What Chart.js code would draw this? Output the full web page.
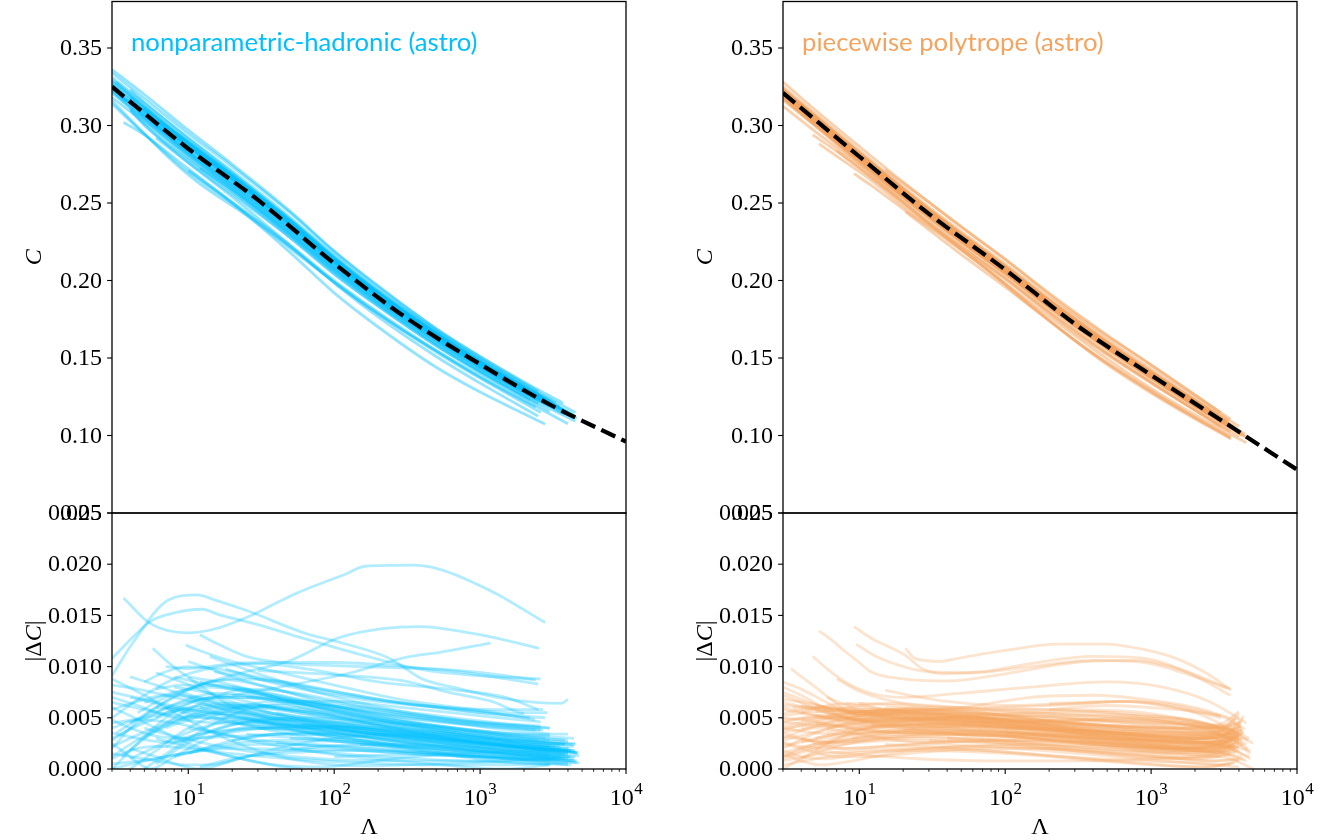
<!DOCTYPE html>
<html>
<head>
<meta charset="utf-8">
<script src="https://cdn.jsdelivr.net/npm/chart.js@4.4.1/dist/chart.umd.min.js"></script>
<style>
  body { margin: 0; background: #fff; width: 1336px; height: 840px; overflow: hidden; position: relative; }
  canvas { position: absolute; top: 0; }
</style>
</head>
<body>
<canvas id="npTop" width="665" height="840" style="left:0"></canvas>
<canvas id="npRes" width="665" height="840" style="left:0"></canvas>
<canvas id="ppTop" width="665" height="840" style="left:671px"></canvas>
<canvas id="ppRes" width="665" height="840" style="left:671px"></canvas>
<script>
// ---- data ----------------------------------------------------------------
// fitted C(Lambda) relation (dashed black line)
const LAMBDA_FIT = [3, 10, 30, 100, 300, 1000, 3000, 10000];
const FIT_NP = [0.325, 0.285, 0.252, 0.211, 0.177, 0.146, 0.120, 0.096];
const FIT_PP = [0.321, 0.280, 0.243, 0.207, 0.172, 0.139, 0.110, 0.078];

const C_TICKS = [0.05, 0.10, 0.15, 0.20, 0.25, 0.30, 0.35];
const DC_TICKS = [0.000, 0.005, 0.010, 0.015, 0.020, 0.025];
const LAMBDA_TICKS = [10, 100, 1000, 10000];

// nonparametric-hadronic draws: [Lambda, C]
const NP_C = [
  [[3,.336],[5,.320],[10,.297],[20,.275],[50,.2446],[100,.219],[200,.1965],[500,.169],[1000,.151],[2000,.1346],[3700,.1209]],
  [[3,.334],[5,.3175],[10,.2948],[20,.2735],[50,.2436],[100,.2186],[200,.196],[500,.1688],[1000,.1508],[2500,.1285]],
  [[3,.331],[5,.3145],[10,.292],[20,.2705],[50,.2406],[100,.2165],[200,.194],[500,.1678],[1000,.1497],[2000,.1331],[4500,.1148]],
  [[3.2,.328],[5,.3125],[10,.2895],[20,.268],[50,.2386],[100,.2147],[200,.1925],[500,.1665],[1000,.1485],[2000,.132],[3000,.1222]],
  [[4,.323],[5,.3148],[10,.2915],[20,.2695],[50,.239],[100,.2145],[200,.192],[500,.1655],[1000,.1475],[2000,.131],[2800,.1232]],
  [[3,.3295],[5,.312],[10,.2885],[20,.2665],[50,.2366],[100,.2128],[200,.191],[500,.165],[1000,.147],[2000,.1305],[4200,.1136]],
  [[3,.3265],[5,.309],[10,.286],[20,.2645],[50,.235],[100,.2112],[200,.1895],[500,.1636],[1000,.1458],[2000,.1294],[3300,.1183]],
  [[3,.3235],[5,.306],[10,.2825],[20,.2615],[50,.2325],[100,.209],[200,.1878],[500,.1625],[1000,.1452],[2000,.129],[4600,.1112]],
  [[3.5,.318],[5,.3095],[10,.2875],[20,.2665],[50,.2368],[100,.2128],[200,.1906],[500,.1644],[1000,.1462],[2400,.1259]],
  [[3,.322],[5,.3035],[10,.2805],[20,.2595],[50,.2305],[100,.2075],[200,.1865],[500,.1612],[1000,.1438],[2000,.1278],[3800,.1136]],
  [[6,.3005],[10,.2875],[20,.2665],[50,.2372],[100,.2132],[200,.1912],[500,.1648],[1000,.1466],[2000,.1298],[3500,.1175]],
  [[3,.3245],[5,.3065],[10,.283],[20,.2615],[50,.2318],[100,.2082],[200,.1868],[500,.1612],[1000,.1436],[2000,.1276],[4400,.1112]],
  [[4.5,.3085],[10,.2815],[20,.2595],[50,.2298],[100,.2065],[200,.1855],[500,.1605],[1000,.1432],[2000,.1275],[3000,.119]],
  [[8,.2925],[10,.2865],[20,.2655],[50,.2358],[100,.2122],[200,.1905],[500,.1646],[1000,.1466],[2000,.1302],[4000,.1148]],
  [[3,.3275],[5,.3105],[10,.2875],[20,.2665],[50,.2372],[100,.2135],[200,.1918],[500,.1658],[1000,.1478],[2000,.1312],[3500,.1188]],
  [[3,.326],[5,.309],[10,.2865],[20,.2658],[50,.2368],[100,.2132],[200,.1915],[500,.1655],[1000,.1474],[2000,.1308],[2900,.1222]],
  [[4,.3175],[10,.2858],[20,.2648],[50,.2356],[100,.2118],[200,.1902],[500,.1644],[1000,.1466],[2000,.1301],[4300,.1134]],
  [[3,.324],[5,.307],[10,.2838],[20,.2628],[50,.2336],[100,.2102],[200,.1888],[500,.1632],[1000,.1455],[2000,.1292],[3600,.1168]],
  [[5,.3115],[10,.289],[20,.268],[50,.2385],[100,.2145],[200,.1925],[500,.1662],[1000,.148],[2000,.1314],[3100,.1214]],
  [[3,.321],[5,.304],[10,.281],[20,.2602],[50,.2312],[100,.208],[200,.1868],[500,.1615],[1000,.1442],[2000,.128],[2700,.1218]],
  [[3.4,.3195],[5,.3075],[10,.2848],[20,.2638],[50,.2345],[100,.2108],[200,.1892],[500,.1635],[1000,.1457],[2600,.1245]],
  [[7,.2985],[10,.2888],[20,.2676],[50,.238],[100,.2138],[200,.1918],[500,.1655],[1000,.1472],[2000,.1305],[4000,.1152]],
  [[3,.3285],[5,.3118],[10,.2888],[20,.2675],[50,.2378],[100,.2136],[200,.1915],[500,.1652],[1000,.147],[2000,.1303],[3200,.1198]],
  [[4,.3185],[5,.3108],[10,.2872],[20,.266],[50,.2362],[100,.2122],[200,.1902],[500,.1642],[1000,.1462],[2000,.1298],[4500,.1125]],
  [[3,.3225],[5,.3055],[10,.283],[20,.262],[50,.233],[100,.2095],[200,.1882],[500,.1628],[1000,.1452],[2200,.1272]],
  [[6,.3035],[10,.2898],[20,.2688],[50,.2395],[100,.2155],[200,.1935],[500,.1672],[1000,.149],[2000,.1322],[3300,.121]],
  [[3.6,.302],[5,.294],[10,.272],[20,.250],[50,.218],[100,.192],[200,.170],[500,.144],[1000,.128],[2000,.114],[2790,.1074]],
  [[3,.316],[4.2,.302],[7.3,.2795],[11.4,.264],[26,.241],[62,.214],[107,.1966],[240,.1733],[400,.1602],[1300,.1325],[2400,.1188],[4000,.1075]],
  [[3,.314],[5,.2945],[10,.270],[20,.250],[50,.2216],[100,.199],[200,.1785],[500,.1538],[1000,.137],[2600,.1148]],
  [[4,.311],[5,.301],[10,.276],[20,.254],[50,.2226],[100,.1985],[200,.1765],[500,.151],[1000,.1338],[2500,.1125]],
  [[10,.271],[20,.2505],[50,.2226],[100,.2],[200,.1795],[500,.1548],[1000,.1375],[2400,.1183]],
  [[4,.310],[5,.300],[10,.278],[20,.257],[50,.2276],[100,.204],[200,.1835],[500,.1578],[1000,.1405],[2000,.1246],[3000,.1155]],
  [[6,.292],[10,.276],[20,.2555],[50,.2275],[100,.2045],[200,.1835],[500,.158],[1000,.141],[2200,.1228]],
  [[3,.318],[5,.302],[10,.279],[20,.258],[50,.229],[100,.2058],[200,.1848],[500,.1592],[1000,.1418],[2000,.126],[4500,.1092]],
  [[12,.2725],[20,.2585],[50,.2296],[100,.206],[200,.185],[500,.1592],[1000,.1418],[2500,.1205]]
];

// nonparametric-hadronic residuals: [Lambda, |dC|]
const NP_DC = [
  [[3.6,.0167],[5.5,.0142],[10,.0133],[14.5,.0136],[26,.0149],[40,.0162],[56,.0172],[118,.0190],[163,.0198],[344,.0199],[529,.0195],[1180,.0174],[2790,.0143]],
  [[3,.0091],[4.2,.0124],[7.3,.0165],[11.4,.0170],[15.3,.0165],[26,.0154],[62,.0133],[107,.0124],[240,.0108],[400,.0088],[700,.0079],[1300,.0070],[2400,.0065],[3600,.0064],[4000,.0068]],
  [[3,.0108],[5.5,.0144],[7.3,.0151],[12.5,.0156],[16,.0151],[30,.0141],[60,.0128],[150,.0112],[400,.0097],[1000,.0091],[2600,.0088]],
  [[3.2,.0035],[6,.0060],[12,.0082],[25,.0095],[50,.0106],[107,.0128],[214,.0137],[400,.0139],[620,.0136],[1180,.0129],[2540,.0118]],
  [[20,.0072],[50,.0082],[130,.0094],[310,.0109],[530,.0114],[1180,.0123]],
  [[5.7,.0118],[7.3,.0104],[12.5,.0080],[19,.0063],[50,.0045],[150,.0032],[500,.0022],[1500,.0015],[3000,.0012]],
  [[9.6,.0121],[11.8,.0116],[19,.0106],[40,.0095],[100,.0082],[310,.0067],[1000,.0057],[2380,.0048]],
  [[12,.0131],[16,.0122],[25,.0110],[50,.0103],[100,.0101],[250,.0099],[600,.0097],[1200,.0093],[2400,.0087]],
  [[7,.0100],[10,.0098],[20,.0103],[40,.0104],[100,.0104],[300,.0100],[800,.0094],[2500,.0083]],
  [[3,.0050],[5,.0072],[8,.0088],[15,.0099],[30,.0103],[70,.0097],[200,.0085],[600,.0078],[1500,.0070],[2500,.0058]],
  [[30,.0096],[100,.0092],[300,.0086],[600,.0075],[1200,.0066],[2000,.0055],[2900,.0055]],
  [[3,.0020],[4,.0040],[6,.0060],[10,.0078],[18,.0087],[35,.0080],[100,.0062],[300,.0048],[1000,.0036],[2500,.0028]],
  [[3,.0000],[4.5,.0025],[7,.0050],[12,.0068],[25,.0072],[60,.0063],[200,.0048],[700,.0035],[2000,.0025],[3300,.0022]],
  [[3,.0060],[4,.0052],[6,.0040],[10,.0025],[20,.0012],[40,.0003],[60,.0000]],
  [[3,.0088],[5,.0072],[8,.0055],[15,.0035],[30,.0018],[60,.0008],[150,.0003],[500,.0005],[2000,.0008],[3500,.0009]],
  [[3.5,.0012],[5,.0030],[8,.0050],[14,.0068],[25,.0078],[50,.0075],[150,.0062],[500,.0052],[1500,.0044],[3000,.0040]],
  [[4,.0000],[6,.0018],[10,.0040],[20,.0058],[40,.0062],[100,.0055],[300,.0044],[1000,.0035],[2800,.0030]],
  [[3,.0035],[4.5,.0030],[7,.0026],[12,.0030],[25,.0038],[60,.0042],[200,.0040],[600,.0033],[2000,.0022],[4200,.0018]],
  [[5,.0000],[8,.0020],[14,.0042],[25,.0058],[50,.0064],[120,.0060],[400,.0050],[1200,.0040],[3000,.0034]],
  [[3,.0015],[5,.0010],[8,.0005],[12,.0000],[20,.0008],[40,.0020],[100,.0030],[300,.0034],[1000,.0030],[3000,.0022]],
  [[6,.0094],[9,.0085],[15,.0072],[30,.0058],[80,.0045],[250,.0035],[800,.0028],[2500,.0020],[4500,.0018]],
  [[8,.0090],[12,.0084],[20,.0078],[40,.0070],[100,.0060],[300,.0050],[1000,.0042],[2700,.0038]],
  [[10,.0105],[14,.0098],[20,.0090],[35,.0080],[80,.0068],[250,.0056],[800,.0046],[2600,.0040]],
  [[4,.0090],[6,.0082],[10,.0070],[20,.0055],[50,.0040],[150,.0028],[500,.0020],[1500,.0014],[3600,.0012]],
  [[3,.0070],[4.5,.0062],[8,.0050],[15,.0045],[30,.0044],[80,.0042],[250,.0037],[800,.0030],[2500,.0022],[4700,.0015]],
  [[3,.0045],[5,.0050],[9,.0058],[18,.0062],[40,.0058],[120,.0048],[400,.0038],[1500,.0028],[3800,.0024]],
  [[6,.0005],[9,.0022],[15,.0038],[30,.0048],[70,.0050],[200,.0046],[600,.0040],[2000,.0033],[4400,.0030]],
  [[3,.0030],[5,.0045],[10,.0060],[20,.0064],[50,.0058],[150,.0046],[500,.0032],[1500,.0022],[4000,.0015]],
  [[7,.0040],[11,.0050],[20,.0060],[40,.0066],[100,.0066],[300,.0060],[1000,.0052],[2600,.0046]],
  [[15,.0095],[20,.0092],[30,.0088],[60,.0080],[150,.0070],[400,.0062],[1200,.0054],[2800,.0050]],
  [[3,.0010],[4,.0018],[6,.0022],[10,.0020],[20,.0015],[50,.0010],[150,.0006],[500,.0004],[1500,.0004],[4000,.0006]],
  [[4.5,.0055],[7,.0070],[12,.0082],[20,.0088],[40,.0086],[100,.0076],[300,.0064],[1000,.0055],[2200,.0050]],
  [[12,.0060],[20,.0052],[40,.0042],[100,.0030],[300,.0020],[1000,.0012],[2500,.0008],[4600,.0006]],
  [[9,.0075],[14,.0066],[25,.0054],[60,.0040],[200,.0026],[700,.0016],[2000,.0010],[4300,.0008]],
  [[3,.0025],[4,.0012],[5.5,.0000],[8,.0012],[14,.0030],[30,.0042],[80,.0040],[250,.0032],[900,.0022],[3000,.0014]],
  [[20,.0080],[40,.0072],[100,.0060],[300,.0046],[1000,.0034],[3000,.0026],[4500,.0025]],
  [[5,.0065],[8,.0075],[13,.0080],[25,.0076],[60,.0064],[200,.0050],[700,.0040],[2200,.0034],[4000,.0034]],
  [[10,.0040],[16,.0035],[30,.0028],[80,.0022],[250,.0016],[900,.0012],[3000,.0008]],
  [[3,.0005],[6,.0010],[12,.0018],[30,.0024],[100,.0022],[400,.0016],[1500,.0010],[4200,.0004]],
  [[25,.0070],[60,.0066],[150,.0060],[400,.0052],[1200,.0044],[3000,.0040]],
  [[6,.0030],[10,.0022],[20,.0012],[40,.0004],[80,.0002],[250,.0010],[900,.0016],[3500,.0018]],
  [[40,.0055],[100,.0046],[300,.0036],[900,.0028],[2500,.0022],[4000,.0020]],
  [[3,.0040],[4.5,.0048],[8,.0045],[15,.0036],[30,.0026],[100,.0014],[400,.0006],[1500,.0000],[3000,.0004]],
  [[14,.0110],[20,.0102],[35,.0090],[80,.0074],[250,.0058],[800,.0047],[2600,.0042]],
  [[18,.0098],[30,.0088],[70,.0076],[200,.0066],[600,.0060],[1500,.0058],[2700,.0058]],
  [[7,.0060],[11,.0052],[18,.0046],[40,.0040],[120,.0030],[400,.0018],[1200,.0008],[3000,.0004]],
  [[50,.0030],[150,.0028],[500,.0022],[1500,.0016],[3500,.0012]],
  [[100,.0012],[300,.0014],[1000,.0012],[2500,.0010],[4500,.0008]],
  [[5,.0085],[7,.0095],[10,.0100],[15,.0098],[30,.0090],[80,.0078],[250,.0066],[800,.0058],[2000,.0054]],
  [[12,.0002],[20,.0010],[50,.0016],[150,.0018],[500,.0016],[1500,.0012],[3800,.0010]],
  [[30,.0040],[100,.0034],[300,.0026],[1000,.0018],[2600,.0012],[4400,.0010]],
  [[8,.0012],[15,.0022],[40,.0028],[150,.0026],[600,.0020],[2000,.0014],[4100,.0012]],
  [[20,.0060],[50,.0052],[150,.0042],[500,.0034],[1500,.0026],[3500,.0022]],
  [[3,.0000],[5,.0008],[10,.0016],[20,.0020],[60,.0018],[200,.0012],[700,.0008],[2000,.0006],[4000,.0004]],
  [[10,.0090],[20,.0082],[50,.0066],[150,.0050],[500,.0038],[1500,.0030],[3000,.0028]],
  [[3,.0028],[5,.0048],[9,.0066],[16,.0074],[35,.0068],[100,.0052],[300,.0038],[1000,.0026],[3000,.0018],[4600,.0016]],
  [[4,.0070],[6,.0064],[10,.0056],[20,.0046],[50,.0034],[150,.0024],[500,.0018],[1500,.0014],[4000,.0010]],
  [[6,.0050],[9,.0062],[15,.0070],[30,.0070],[80,.0060],[250,.0046],[800,.0034],[2500,.0026],[4300,.0024]],
  [[10,.0070],[16,.0064],[30,.0054],[80,.0042],[250,.0030],[800,.0022],[2400,.0016],[4000,.0014]],
  [[3,.0058],[4.5,.0066],[7,.0072],[12,.0070],[25,.0060],[70,.0046],[250,.0034],[900,.0026],[2800,.0020]],
  [[5,.0030],[8,.0046],[14,.0058],[30,.0060],[80,.0054],[250,.0042],[800,.0032],[2500,.0026],[4500,.0024]],
  [[15,.0050],[30,.0046],[80,.0038],[250,.0028],[800,.0020],[2500,.0014],[4200,.0012]],
  [[3,.0012],[4,.0024],[6,.0038],[10,.0050],[20,.0054],[50,.0048],[150,.0036],[500,.0026],[1500,.0018],[3800,.0014]],
  [[8,.0080],[12,.0076],[25,.0066],[60,.0054],[200,.0042],[700,.0034],[2000,.0028],[4000,.0026]],
  [[25,.0034],[60,.0030],[200,.0024],[700,.0018],[2000,.0012],[4600,.0008]],
  [[4,.0020],[6,.0012],[9,.0004],[14,.0004],[25,.0012],[60,.0020],[200,.0024],[700,.0022],[2000,.0018],[3600,.0016]],
  [[12,.0085],[18,.0080],[35,.0072],[90,.0062],[300,.0052],[1000,.0044],[2600,.0038]],
  [[7,.0022],[12,.0034],[22,.0044],[50,.0048],[150,.0044],[500,.0036],[1500,.0028],[3800,.0024]],
  [[3,.0065],[5,.0058],[8,.0052],[14,.0050],[30,.0050],[80,.0046],[250,.0038],[800,.0030],[2400,.0024],[4400,.0022]],
  [[40,.0026],[120,.0022],[400,.0016],[1300,.0012],[3300,.0010]],
  [[5,.0040],[8,.0032],[14,.0024],[30,.0016],[80,.0010],[250,.0008],[800,.0008],[2500,.0010],[4500,.0012]],
  [[9,.0055],[14,.0060],[25,.0062],[60,.0058],[200,.0048],[600,.0040],[1800,.0032],[3800,.0028]],
  [[3,.0082],[4.5,.0078],[7,.0072],[12,.0064],[25,.0054],[60,.0044],[200,.0034],[700,.0026],[2200,.0020],[4000,.0018]],
  [[60,.0044],[200,.0038],[600,.0030],[1800,.0022],[4200,.0018]],
  [[20,.0028],[40,.0034],[100,.0036],[300,.0032],[900,.0026],[2600,.0020],[4700,.0016]],
  [[6,.0078],[9,.0082],[15,.0082],[30,.0076],[80,.0064],[250,.0052],[800,.0044],[2400,.0038]],
  [[3,.0048],[4,.0040],[6,.0032],[10,.0030],[20,.0032],[50,.0034],[150,.0032],[500,.0026],[1500,.0020],[4000,.0016]],
  [[150,.0024],[500,.0020],[1500,.0016],[3500,.0014],[4800,.0013]],
  [[10,.0015],[18,.0026],[40,.0034],[120,.0034],[400,.0028],[1200,.0022],[3200,.0018]],
  [[30,.0062],[80,.0054],[250,.0044],[800,.0036],[2200,.0030],[4000,.0028]],
  [[4,.0045],[6,.0056],[10,.0066],[20,.0070],[45,.0066],[120,.0056],[400,.0044],[1200,.0036],[3000,.0032]],
  [[3,.0022],[5,.0036],[9,.0050],[18,.0056],[40,.0052],[120,.0042],[400,.0032],[1200,.0024],[3200,.0018],[4600,.0016]],
  [[6,.0060],[10,.0058],[20,.0052],[50,.0042],[150,.0032],[500,.0024],[1500,.0018],[3800,.0014]],
  [[15,.0036],[35,.0040],[100,.0038],[300,.0032],[1000,.0024],[2800,.0018],[4500,.0016]],
  [[3,.0075],[5,.0068],[9,.0060],[18,.0052],[45,.0044],[150,.0036],[500,.0028],[1500,.0022],[3600,.0018]],
  [[8,.0028],[14,.0036],[30,.0040],[80,.0040],[250,.0034],[800,.0026],[2400,.0020],[4400,.0018]],
  [[50,.0020],[150,.0018],[500,.0014],[1500,.0010],[3500,.0008],[4800,.0006]],
  [[4,.0010],[7,.0026],[12,.0040],[25,.0048],[60,.0046],[200,.0038],[700,.0028],[2000,.0022],[4100,.0020]],
  [[20,.0046],[50,.0044],[150,.0038],[500,.0030],[1500,.0024],[3600,.0020]]
];

// piecewise polytrope draws: [Lambda, C]
const PP_C = [
  [[3,.328],[5,.310],[10,.2865],[20,.2635],[50,.2345],[100,.2138],[200,.1918],[500,.1648],[1000,.1455],[2000,.1262],[3500,.1105]],
  [[3,.325],[5,.3075],[10,.284],[20,.2605],[50,.2315],[100,.2108],[200,.189],[500,.1622],[1000,.143],[2000,.1245],[4000,.1058]],
  [[3,.3235],[5,.306],[10,.2825],[20,.2592],[50,.2302],[100,.2095],[200,.1876],[500,.1606],[1000,.1414],[2000,.1228],[3000,.1118]],
  [[4,.314],[5,.305],[10,.2815],[20,.2582],[50,.2292],[100,.2085],[200,.1866],[500,.1598],[1000,.1408],[2000,.1222],[3300,.1094]],
  [[3,.3225],[5,.305],[10,.2812],[20,.2578],[50,.2287],[100,.2078],[200,.1858],[500,.159],[1000,.1402],[2000,.1218],[4400,.1008]],
  [[3,.3205],[5,.303],[10,.2795],[20,.2562],[50,.2272],[100,.2065],[200,.1846],[500,.1576],[1000,.1386],[2000,.1203],[3800,.1036]],
  [[3,.319],[5,.3015],[10,.278],[20,.2548],[50,.2258],[100,.2052],[200,.1834],[500,.1565],[1000,.1376],[2000,.1195],[3000,.1092]],
  [[3.3,.3165],[5,.3025],[10,.279],[20,.2558],[50,.2268],[100,.206],[200,.1842],[500,.1572],[1000,.1382],[2000,.1198],[4100,.1012]],
  [[6,.2955],[10,.2788],[20,.2556],[50,.2266],[100,.2058],[200,.1838],[500,.1566],[1000,.1374],[2000,.119],[3600,.1052]],
  [[3,.3175],[5,.300],[10,.2768],[20,.2538],[50,.2252],[100,.2048],[200,.1832],[500,.1562],[1000,.1372],[2000,.1188],[3900,.1028]],
  [[4,.3105],[5,.302],[10,.2785],[20,.2552],[50,.226],[100,.2052],[200,.1834],[500,.1566],[1000,.1378],[2000,.1196],[3400,.1075]],
  [[3,.3222],[5,.3048],[10,.2814],[20,.2580],[50,.2290],[100,.2083],[200,.1862],[500,.1592],[1000,.1401],[2000,.1218],[3700,.1055]],
  [[3,.3215],[5,.304],[10,.2806],[20,.2573],[50,.2283],[100,.2076],[200,.1856],[500,.1586],[1000,.1396],[2000,.1213],[3200,.1095]],
  [[3,.3198],[5,.3025],[10,.279],[20,.2557],[50,.2267],[100,.206],[200,.1841],[500,.1572],[1000,.1382],[2000,.12],[4200,.1000]],
  [[3,.3185],[5,.301],[10,.2776],[20,.2543],[50,.2254],[100,.2047],[200,.1829],[500,.1561],[1000,.1372],[2000,.1191],[3500,.1045]],
  [[3,.323],[5,.3057],[10,.2822],[20,.2588],[50,.2298],[100,.2091],[200,.187],[500,.1599],[1000,.1408],[2000,.1224],[2900,.1125]],
  [[3.5,.3165],[5,.3045],[10,.2811],[20,.2577],[50,.2287],[100,.2079],[200,.1859],[500,.1589],[1000,.1399],[2000,.1216],[4500,.0985]],
  [[3,.3175],[5,.3002],[10,.2768],[20,.2536],[50,.2248],[100,.2042],[200,.1825],[500,.1557],[1000,.1369],[2000,.1188],[3300,.1068]],
  [[4,.3135],[5,.3045],[10,.2808],[20,.2575],[50,.2284],[100,.2077],[200,.1857],[500,.1587],[1000,.1397],[2000,.1214],[3900,.1035]],
  [[3,.3205],[5,.3032],[10,.2798],[20,.2565],[50,.2275],[100,.2068],[200,.1848],[500,.1578],[1000,.1388],[2000,.1206],[4000,.1022]],
  [[3,.3238],[5,.3062],[10,.2826],[20,.2592],[50,.2301],[100,.2093],[200,.1872],[500,.1601],[1000,.141],[2000,.1226],[3400,.1092]],
  [[6,.2975],[10,.2785],[20,.2552],[50,.2262],[100,.2055],[200,.1836],[500,.1567],[1000,.1378],[2000,.1197],[3800,.1030]],
  [[3,.3195],[5,.3018],[10,.2782],[20,.2549],[50,.2259],[100,.2052],[200,.1833],[500,.1565],[1000,.1376],[2000,.1195],[3000,.1088]],
  [[3,.3228],[5,.3052],[10,.2818],[20,.2584],[50,.2294],[100,.2086],[200,.1866],[500,.1595],[1000,.1404],[2000,.1221],[4400,.0995]],
  [[4.5,.3068],[10,.2804],[20,.2571],[50,.228],[100,.2073],[200,.1853],[500,.1583],[1000,.1393],[2000,.121],[3600,.1058]],
  [[3,.3212],[5,.3036],[10,.2801],[20,.2568],[50,.2278],[100,.2071],[200,.1851],[500,.1581],[1000,.1391],[2000,.1208],[3300,.1077]],
  [[20.7,.2444],[36,.227],[47,.2186],[103,.1949],[226,.1701],[483,.1467],[870,.1309],[1480,.1177],[2500,.1056],[3530,.0978]],
  [[9.2,.2689],[12,.2615],[20.7,.2451],[27,.2375],[39,.227],[70,.2094],[150,.1834],[400,.1528],[900,.1311],[1800,.1141],[3500,.099]],
  [[5.3,.2881],[7.8,.2772],[12,.2648],[20,.2479],[40,.2269],[100,.1977],[300,.1616],[800,.1345],[1600,.1169],[3500,.0984]],
  [[4.8,.294],[8,.2795],[12,.2669],[20,.2497],[50,.2203],[150,.1857],[500,.1495],[1200,.1257],[2500,.1082],[4500,.0953]],
  [[3,.3125],[5,.296],[10,.2745],[30,.237],[100,.201],[300,.1662],[1000,.1338],[3500,.1024]],
  [[3,.3165],[5,.2995],[10,.2755],[20,.2525],[50,.2235],[100,.2025],[200,.1805],[500,.1535],[1000,.1348],[2000,.1166],[4000,.0994]],
  [[7,.2838],[10,.2725],[20,.2505],[50,.2217],[100,.2012],[200,.1795],[500,.1528],[1000,.1342],[2000,.1162],[3000,.1055]],
  [[15,.2715],[30,.2505],[100,.2135],[300,.1785],[1000,.1455],[2000,.1262],[3000,.1148]]
];

// piecewise polytrope residuals: [Lambda, |dC|]
const PP_DC = [
  [[20.7,.0118],[24,.0108],[36,.0105],[47,.0108],[103,.0116],[226,.0122],[483,.0122],[870,.0117],[1480,.0108],[2500,.0092],[3530,.0077]],
  [[9.2,.0139],[12,.0128],[20.7,.0111],[27,.0098],[39,.0093],[70,.0095],[150,.0103],[400,.0110],[900,.0108],[1800,.0094],[3500,.0072]],
  [[5.3,.0135],[6.6,.0125],[7.8,.0116],[9.8,.0105],[12,.0095],[20,.0088],[40,.0086],[100,.0093],[300,.0104],[800,.0106],[1600,.0097],[3500,.0078]],
  [[9.5,.0122],[13,.0110],[20,.0100],[30,.0095],[60,.0094],[150,.0100],[400,.0106],[900,.0104],[2000,.0090],[3300,.0079]],
  [[4.8,.0110],[6,.0098],[8,.0085],[12,.0074],[20,.0070],[50,.0074],[150,.0080],[500,.0085],[1200,.0080],[2500,.0066],[4500,.0045]],
  [[3.4,.0098],[5,.0080],[7.3,.0062],[10,.0052],[20,.0056],[50,.0060],[150,.0070],[400,.0072],[900,.0068],[2000,.0060],[3800,.0048]],
  [[3,.0085],[4,.0078],[6,.0065],[9,.0055],[15,.0058],[30,.0060],[80,.0059],[200,.0058],[600,.0057],[1500,.0050],[3500,.0038]],
  [[7,.0088],[10,.0076],[15,.0068],[25,.0062],[60,.0060],[200,.0062],[700,.0066],[1500,.0062],[3000,.0052]],
  [[15,.0077],[22,.0072],[40,.0066],[100,.0062],[300,.0064],[700,.0066],[1500,.0060],[3000,.0050]],
  [[3,.0030],[5,.0042],[10,.0052],[20,.0058],[40,.0058],[100,.0052],[300,.0044],[1000,.0040],[2500,.0040],[3800,.0044]],
  [[3,.0020],[5,.0035],[10,.0048],[20,.0054],[50,.0052],[150,.0045],[500,.0036],[1500,.0030],[3000,.0030],[4200,.0038]],
  [[3,.0045],[4,.0050],[8,.0054],[15,.0057],[30,.0058],[80,.0054],[250,.0046],[800,.0040],[2000,.0038],[3600,.0042]],
  [[4,.0010],[6,.0025],[10,.0038],[20,.0046],[40,.0048],[100,.0044],[300,.0036],[1000,.0028],[2500,.0026],[4000,.0034]],
  [[3,.0060],[4.5,.0054],[8,.0046],[15,.0042],[30,.0044],[100,.0046],[300,.0048],[800,.0048],[2000,.0042],[3500,.0034]],
  [[3,.0012],[5,.0022],[10,.0032],[20,.0036],[50,.0036],[150,.0030],[500,.0022],[1500,.0016],[3000,.0018],[4000,.0026]],
  [[3,.0000],[4,.0010],[8,.0024],[15,.0030],[40,.0030],[120,.0024],[400,.0016],[1200,.0010],[3000,.0012]],
  [[5,.0052],[8,.0050],[15,.0046],[40,.0040],[120,.0034],[400,.0030],[1000,.0028],[2200,.0030],[3500,.0040]],
  [[3,.0035],[4,.0030],[6,.0026],[10,.0028],[25,.0034],[70,.0036],[200,.0034],[600,.0028],[1800,.0022],[3200,.0026],[4300,.0036]],
  [[6,.0070],[9,.0060],[14,.0052],[25,.0048],[60,.0046],[200,.0046],[600,.0050],[1500,.0048],[2800,.0040],[4600,.0028]],
  [[10,.0064],[15,.0058],[30,.0052],[80,.0048],[250,.0044],[700,.0042],[1600,.0040],[3000,.0036]],
  [[3,.0050],[5,.0046],[9,.0040],[18,.0036],[40,.0034],[120,.0032],[400,.0030],[1200,.0028],[2800,.0024],[4700,.0012]],
  [[3,.0072],[4.5,.0062],[7,.0052],[12,.0046],[25,.0048],[60,.0052],[150,.0055],[400,.0056],[1000,.0052],[2200,.0046],[3600,.0034]],
  [[3,.0025],[4.5,.0018],[7,.0012],[12,.0012],[25,.0016],[70,.0020],[250,.0020],[800,.0016],[2200,.0012],[3800,.0016]],
  [[4,.0040],[7,.0044],[14,.0048],[30,.0050],[80,.0048],[250,.0042],[800,.0034],[2000,.0030],[3400,.0036],[4100,.0048]],
  [[8,.0056],[12,.0052],[25,.0050],[60,.0048],[180,.0040],[600,.0028],[1600,.0020],[3000,.0016],[4000,.0018]],
  [[3,.0015],[4,.0008],[5.5,.0004],[9,.0008],[18,.0016],[50,.0022],[150,.0024],[500,.0022],[1500,.0020],[3200,.0024]],
  [[12,.0044],[20,.0040],[45,.0034],[130,.0026],[400,.0018],[1200,.0012],[2800,.0008],[4300,.0010]],
  [[3.5,.0060],[5.5,.0058],[9,.0056],[16,.0056],[35,.0054],[100,.0048],[300,.0040],[900,.0034],[2000,.0032],[3300,.0030]],
  [[5,.0030],[8,.0036],[14,.0040],[30,.0040],[90,.0036],[300,.0030],[1000,.0022],[2500,.0016],[4200,.0012]],
  [[20,.0038],[50,.0034],[150,.0030],[500,.0026],[1400,.0024],[3000,.0028],[4400,.0040]],
  [[3,.0008],[5,.0014],[10,.0018],[25,.0020],[70,.0018],[250,.0012],[800,.0006],[2200,.0002],[3700,.0006]],
  [[30,.0028],[80,.0026],[250,.0022],[800,.0018],[2000,.0014],[3500,.0010],[5000,.0000]],
  [[6,.0040],[10,.0034],[18,.0028],[40,.0024],[120,.0020],[400,.0014],[1200,.0008],[2600,.0004],[4000,.0002]],
  [[4,.0055],[6,.0062],[10,.0064],[18,.0062],[40,.0056],[120,.0046],[400,.0036],[1200,.0028],[2600,.0026],[4000,.0032]],
  [[50,.0044],[150,.0040],[500,.0034],[1500,.0028],[3000,.0024],[4800,.0018]],
  [[3,.0040],[4.5,.0036],[7,.0034],[12,.0036],[25,.0040],[70,.0042],[200,.0040],[700,.0034],[2000,.0026],[3500,.0020],[4800,.0010]],
  [[100,.0034],[300,.0032],[900,.0028],[2200,.0024],[3600,.0030],[4300,.0052]],
  [[15,.0024],[30,.0022],[80,.0018],[250,.0012],[800,.0008],[2000,.0006],[3500,.0004]],
  [[3,.0054],[4,.0058],[6,.0060],[10,.0059],[20,.0056],[50,.0050],[150,.0042],[500,.0036],[1500,.0034],[3000,.0038],[4000,.0054]],
  [[4,.0030],[5.5,.0024],[8,.0020],[14,.0022],[30,.0026],[80,.0028],[250,.0026],[800,.0022],[2000,.0020],[3400,.0026]],
  [[7,.0058],[10,.0062],[16,.0064],[30,.0062],[70,.0058],[200,.0054],[600,.0050],[1500,.0046],[3000,.0042],[4700,.0030]],
  [[3,.0080],[4,.0072],[6,.0058],[9,.0048],[15,.0044],[35,.0042],[100,.0040],[300,.0038],[1000,.0036],[2500,.0032],[3800,.0020]],
  [[9,.0030],[14,.0034],[25,.0038],[60,.0038],[180,.0034],[600,.0026],[1800,.0020],[3600,.0022]],
  [[200,.0058],[500,.0062],[1000,.0060],[2000,.0056],[3200,.0050],[4200,.0040]],
  [[5,.0018],[10,.0014],[25,.0010],[80,.0008],[300,.0008],[1000,.0010],[2500,.0014],[4000,.0022]],
  [[3,.0065],[5,.0058],[10,.0048],[25,.0040],[80,.0036],[300,.0034],[1000,.0032],[2400,.0030],[3800,.0036]],
  [[12,.0052],[25,.0048],[70,.0042],[250,.0034],[900,.0026],[2200,.0020],[3700,.0024]],
  [[60,.0050],[200,.0046],[600,.0042],[1500,.0040],[3000,.0044],[4000,.0056]],
  [[200,.0064],[600,.0066],[1200,.0062],[2000,.0055],[3000,.0044],[5000,.0025]],
  [[3,.0052],[5,.0056],[10,.0058],[20,.0057],[50,.0052],[150,.0044],[500,.0036],[1500,.0032],[3000,.0036],[4000,.0046]],
  [[3,.0038],[5,.0046],[10,.0052],[20,.0055],[50,.0052],[150,.0046],[500,.0040],[1500,.0036],[3000,.0034],[4200,.0028]],
  [[3,.0022],[5,.0030],[10,.0038],[20,.0042],[50,.0042],[150,.0036],[500,.0028],[1500,.0022],[3000,.0024],[4000,.0032]],
  [[4,.0048],[7,.0052],[12,.0054],[25,.0054],[60,.0050],[200,.0042],[600,.0034],[1500,.0030],[2800,.0030],[3800,.0040]],
  [[3,.0010],[5,.0020],[10,.0026],[20,.0028],[60,.0026],[200,.0020],[700,.0014],[2000,.0010],[3500,.0014]],
  [[5,.0062],[8,.0058],[14,.0054],[30,.0052],[80,.0050],[250,.0046],[800,.0040],[2000,.0036],[3500,.0030],[4600,.0020]],
  [[3,.0068],[4.5,.0064],[7,.0058],[12,.0054],[25,.0052],[60,.0050],[200,.0046],[600,.0042],[1500,.0040],[3000,.0042],[4000,.0050]],
  [[6,.0024],[10,.0030],[20,.0034],[50,.0034],[150,.0030],[500,.0024],[1500,.0018],[3000,.0018],[4300,.0024]],
  [[3,.0058],[5,.0052],[9,.0048],[18,.0048],[40,.0050],[120,.0052],[400,.0052],[1000,.0048],[2200,.0040],[3600,.0028]],
  [[8,.0040],[14,.0042],[30,.0044],[80,.0042],[250,.0036],[800,.0030],[2000,.0026],[3300,.0028],[4200,.0038]],
  [[3,.0032],[4.5,.0028],[7,.0026],[12,.0028],[25,.0032],[70,.0034],[250,.0032],[800,.0026],[2000,.0020],[3500,.0016]],
  [[10,.0056],[20,.0056],[50,.0054],[150,.0050],[400,.0048],[1000,.0046],[2200,.0042],[3600,.0034]],
  [[3,.0046],[4,.0044],[6,.0042],[10,.0042],[25,.0044],[70,.0044],[200,.0040],[700,.0034],[1800,.0030],[3200,.0032],[4100,.0044]],
  [[20,.0050],[50,.0046],[150,.0040],[500,.0032],[1400,.0026],[2800,.0024],[4000,.0030]],
  [[3,.0018],[4,.0012],[6,.0010],[10,.0014],[25,.0020],[80,.0022],[300,.0018],[1000,.0012],[2500,.0008],[4000,.0010]],
  [[7,.0048],[12,.0048],[25,.0046],[70,.0040],[200,.0032],[600,.0024],[1600,.0018],[3000,.0016],[4500,.0008]],
  [[4,.0062],[6,.0058],[10,.0054],[20,.0052],[50,.0050],[150,.0048],[500,.0046],[1200,.0044],[2500,.0042],[3800,.0036]],
  [[3,.0028],[5,.0036],[9,.0044],[18,.0048],[45,.0048],[130,.0042],[400,.0034],[1200,.0026],[2800,.0024],[4000,.0030]],
  [[15,.0060],[30,.0058],[80,.0056],[250,.0054],[800,.0052],[1800,.0048],[3200,.0040]],
  [[3,.0004],[5,.0010],[10,.0016],[25,.0018],[80,.0016],[300,.0010],[1000,.0004],[2500,.0002],[4000,.0008]],
  [[5,.0045],[8,.0040],[15,.0036],[35,.0034],[100,.0032],[300,.0028],[900,.0022],[2200,.0018],[3800,.0022]],
  [[40,.0030],[120,.0028],[400,.0024],[1200,.0020],[2800,.0022],[4200,.0034]],
  [[3,.0075],[4,.0068],[6,.0060],[10,.0056],[20,.0056],[50,.0058],[150,.0058],[400,.0056],[1000,.0050],[2200,.0042],[3600,.0028]],
  [[6,.0052],[10,.0056],[18,.0058],[40,.0056],[120,.0050],[400,.0042],[1200,.0036],[2600,.0036],[3800,.0046]],
  [[3,.0012],[4,.0020],[7,.0030],[12,.0036],[30,.0038],[90,.0034],[300,.0026],[1000,.0018],[2400,.0016],[3600,.0022]],
  [[100,.0040],[300,.0038],[900,.0034],[2000,.0030],[3200,.0034],[4100,.0046]],
  [[8,.0064],[12,.0060],[25,.0056],[70,.0054],[250,.0050],[800,.0044],[2000,.0038],[3500,.0030],[4800,.0015]],
  [[3,.0042],[5,.0048],[9,.0052],[16,.0052],[40,.0048],[130,.0040],[450,.0032],[1400,.0026],[3000,.0026],[4300,.0036]],
  [[3,.0036],[5,.0040],[10,.0044],[25,.0046],[70,.0044],[200,.0038],[700,.0030],[1800,.0026],[3200,.0028],[4200,.0042]],
  [[4,.0026],[7,.0032],[14,.0036],[35,.0036],[100,.0032],[350,.0026],[1000,.0020],[2400,.0018],[3800,.0026]],
  [[3,.0048],[5,.0050],[10,.0050],[25,.0048],[70,.0046],[250,.0042],[800,.0038],[2000,.0034],[3400,.0032],[4500,.0024]],
  [[6,.0036],[10,.0040],[20,.0042],[50,.0040],[150,.0034],[500,.0026],[1500,.0020],[3000,.0020],[4000,.0028]],
  [[3,.0062],[5,.0060],[10,.0056],[20,.0054],[50,.0054],[150,.0052],[500,.0048],[1300,.0044],[2600,.0040],[3700,.0038]],
  [[10,.0046],[20,.0046],[50,.0044],[150,.0038],[500,.0030],[1500,.0024],[3000,.0022],[4200,.0030]],
  [[3,.0016],[5,.0024],[10,.0030],[25,.0032],[80,.0028],[300,.0022],[1000,.0016],[2500,.0014],[3900,.0020]],
  [[5,.0056],[9,.0054],[18,.0052],[45,.0050],[130,.0046],[400,.0040],[1200,.0034],[2600,.0032],[3700,.0036]],
  [[25,.0044],[70,.0042],[200,.0038],[600,.0034],[1500,.0032],[3000,.0034],[4100,.0042]],
  [[3,.0026],[4,.0022],[7,.0020],[15,.0022],[40,.0026],[120,.0028],[400,.0026],[1200,.0022],[2800,.0020],[4200,.0026]],
  [[8,.0050],[15,.0050],[35,.0048],[100,.0044],[300,.0038],[900,.0032],[2200,.0028],[3600,.0026]],
  [[3,.0040],[5,.0044],[9,.0048],[20,.0050],[50,.0048],[150,.0042],[500,.0034],[1500,.0028],[3000,.0030],[4000,.0040]]
];

// ---- drawing -------------------------------------------------------------
const SERIF = '"Liberation Serif", "DejaVu Serif", serif';
const SANS = 'Lato, "Open Sans", sans-serif';

// axes, ticks and labels are drawn by hand so they look like the matplotlib ones
const frameAxes = {
  id: 'frameAxes',
  afterDraw(chart, args, o) {
    const { ctx, chartArea: a, scales: { x, y } } = chart;
    ctx.save();
    ctx.strokeStyle = '#000';
    ctx.fillStyle = '#000';

    // y ticks + labels
    ctx.lineWidth = 1.1;
    ctx.font = '24px ' + SERIF;
    ctx.textAlign = 'right';
    ctx.textBaseline = 'middle';
    o.yTicks.forEach(v => {
      const py = y.getPixelForValue(v);
      ctx.beginPath();
      ctx.moveTo(a.left, py);
      ctx.lineTo(a.left - 4.9, py);
      ctx.stroke();
      ctx.fillText(v.toFixed(o.yDigits), a.left - 10, py + 1);
    });

    // log x ticks (only on the lower panel)
    if (o.xAxis) {
      for (let d = 0; d <= 4; d++) {
        for (let m = 1; m <= 9; m++) {
          const v = m * Math.pow(10, d);
          if (v < x.min || v > x.max) continue;
          const px = x.getPixelForValue(v);
          const major = m === 1;
          ctx.lineWidth = major ? 1.1 : 0.85;
          ctx.beginPath();
          ctx.moveTo(px, a.bottom);
          ctx.lineTo(px, a.bottom + (major ? 4.9 : 2.8));
          ctx.stroke();
        }
      }
      LAMBDA_TICKS.forEach(v => {
        const px = x.getPixelForValue(v);
        const exp = String(Math.round(Math.log10(v)));
        ctx.font = '24px ' + SERIF;
        const w1 = ctx.measureText('10').width;
        ctx.font = '17px ' + SERIF;
        const w2 = ctx.measureText(exp).width;
        const x0 = px - (w1 + w2) / 2;
        ctx.textAlign = 'left';
        ctx.textBaseline = 'alphabetic';
        ctx.font = '24px ' + SERIF;
        ctx.fillText('10', x0, a.bottom + 36);
        ctx.font = '17px ' + SERIF;
        ctx.fillText(exp, x0 + w1 + 0.5, a.bottom + 25);
      });
      ctx.font = '24px ' + SERIF;
      ctx.textAlign = 'center';
      ctx.fillText('\u039B', (a.left + a.right) / 2, a.bottom + 65);
    }

    // frame
    ctx.lineWidth = 1.3;
    ctx.strokeRect(a.left, a.top, a.right - a.left, a.bottom - a.top);

    // y axis title, rotated
    ctx.save();
    ctx.translate(a.left - 77, (a.top + a.bottom) / 2);
    ctx.rotate(-Math.PI / 2);
    ctx.textBaseline = 'middle';
    ctx.textAlign = 'left';
    const parts = o.yTitle;
    let total = 0;
    parts.forEach(p => { ctx.font = p[1] + ' 24px ' + SERIF; total += ctx.measureText(p[0]).width; });
    let cx = -total / 2;
    parts.forEach(p => {
      ctx.font = p[1] + ' 24px ' + SERIF;
      ctx.fillText(p[0], cx, 0);
      cx += ctx.measureText(p[0]).width;
    });
    ctx.restore();

    // panel title
    if (o.title) {
      ctx.font = '25.7px ' + SANS;
      ctx.fillStyle = o.titleColor;
      ctx.textAlign = 'left';
      ctx.textBaseline = 'alphabetic';
      ctx.fillText(o.title, a.left + 19, a.top + 49);
    }
    ctx.restore();
  }
};

function toPoints(curve) {
  return curve.map(p => ({ x: p[0], y: p[1] }));
}

function makePanel(id, curves, color, fit, yMin, yMax, axisOpts, padding) {
  const datasets = [];
  if (fit) {
    datasets.push({
      data: LAMBDA_FIT.map((l, i) => ({ x: l, y: fit[i] })),
      borderColor: '#000',
      borderWidth: 4.2,
      borderDash: [15.5, 6.7],
      cubicInterpolationMode: 'monotone',
      order: 0
    });
  }
  curves.forEach(c => datasets.push({
    data: toPoints(c),
    borderColor: color,
    borderWidth: 2.8,
    cubicInterpolationMode: 'monotone',
    order: 1
  }));

  return new Chart(document.getElementById(id), {
    type: 'line',
    data: { datasets },
    options: {
      responsive: false,
      devicePixelRatio: 1,
      animation: false,
      events: [],
      clip: 0,
      elements: { point: { radius: 0 }, line: { borderCapStyle: 'butt' } },
      layout: { padding },
      scales: {
        x: { type: 'logarithmic', min: 3, max: 10000, display: false },
        y: { type: 'linear', min: yMin, max: yMax, display: false }
      },
      plugins: {
        legend: { display: false },
        tooltip: { enabled: false },
        frameAxes: axisOpts
      }
    },
    plugins: [frameAxes]
  });
}

const BLUE = 'rgba(0, 191, 255, 0.3)';
const ORANGE = 'rgba(244, 164, 96, 0.3)';
const BLUE_TOP = 'rgba(0, 191, 255, 0.42)';
const ORANGE_TOP = 'rgba(244, 164, 96, 0.5)';
const TOP_PAD = { left: 112, right: 39, top: 1.5, bottom: 327 };
const RES_PAD = { left: 112, right: 39, top: 513, bottom: 71 };
const C_TITLE = [['C', 'italic']];
const DC_TITLE = [['|', 'normal'], ['\u0394', 'normal'], ['C', 'italic'], ['|', 'normal']];

makePanel('npTop', NP_C, BLUE_TOP, FIT_NP, 0.05, 0.38,
  { yTicks: C_TICKS, yDigits: 2, yTitle: C_TITLE, xAxis: false,
    title: 'nonparametric-hadronic (astro)', titleColor: '#00bfff' }, TOP_PAD);
makePanel('npRes', NP_DC, BLUE, null, 0, 0.025,
  { yTicks: DC_TICKS, yDigits: 3, yTitle: DC_TITLE, xAxis: true }, RES_PAD);
makePanel('ppTop', PP_C, ORANGE_TOP, FIT_PP, 0.05, 0.38,
  { yTicks: C_TICKS, yDigits: 2, yTitle: C_TITLE, xAxis: false,
    title: 'piecewise polytrope (astro)', titleColor: '#f4a460' }, TOP_PAD);
makePanel('ppRes', PP_DC, ORANGE, null, 0, 0.025,
  { yTicks: DC_TICKS, yDigits: 3, yTitle: DC_TITLE, xAxis: true }, RES_PAD);
</script>
</body>
</html>
